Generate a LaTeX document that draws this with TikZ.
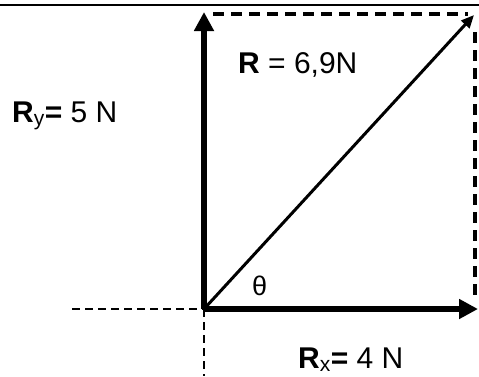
\documentclass[tikz,border=0pt]{standalone}
\usepackage{fontspec}
\setmainfont{Liberation Sans}
\usetikzlibrary{arrows.meta}

\begin{document}
\begin{tikzpicture}[x=1pt, y=-1pt,
    force/.style={line width=5.5pt, -{Triangle[length=19pt,width=19pt]}},
    result/.style={line width=3pt, -{Triangle[length=13pt,width=11pt]}},
    guide/.style={line width=3.2pt, dash pattern=on 11pt off 7pt},
    axisguide/.style={line width=1.3pt, dash pattern=on 8pt off 5pt},
    lbl/.style={inner sep=0pt, anchor=base west, font=\fontsize{30}{36}\selectfont}]

        \useasboundingbox (0,0) rectangle (479,376);

        % ===================================================
        % 1. FRAME LINE AND KEY POINTS
        % ===================================================
        \draw[line width=1.5pt] (0,5) -- (479,5);

        \coordinate (O) at (204,309);      % origin of the forces
        \coordinate (Ytip) at (204,12);    % tip of R_y
        \coordinate (Xtip) at (478,309);   % tip of R_x
        \coordinate (Rtip) at (474,15);    % tip of R
        \coordinate (Left) at (72,309);
        \coordinate (Down) at (204,376);

        % ===================================================
        % 2. PARALLELOGRAM GUIDES (dashed)
        % ===================================================
        \draw[guide] (213,14) -- (468,14);
        \draw[guide] (475,32) -- (475,300);

        % axis guides through the origin
        \draw[axisguide] (Left) -- (O);
        \draw[axisguide] (O) -- (Down);

        % ===================================================
        % 3. FORCE VECTORS
        % ===================================================
        \draw[force] (O) -- (Ytip);
        \draw[force] (O) -- (Xtip);
        \draw[result] (O) -- (Rtip);

        % ===================================================
        % 4. LABELS
        % ===================================================
        \node[lbl] (lR) at (238,73) {\textbf{R} = 6,9N};
        \node[lbl] (lRy) at (12,122) {\textbf{R}\textsubscript{y}\textbf{=} 5 N};
        \node[lbl] (lRx) at (298,368) {\textbf{R}\textsubscript{x}\textbf{=} 4 N};
        \node[lbl, font=\fontsize{27}{32}\selectfont] (lth) at (252,295) {θ};

\end{tikzpicture}
\end{document}
